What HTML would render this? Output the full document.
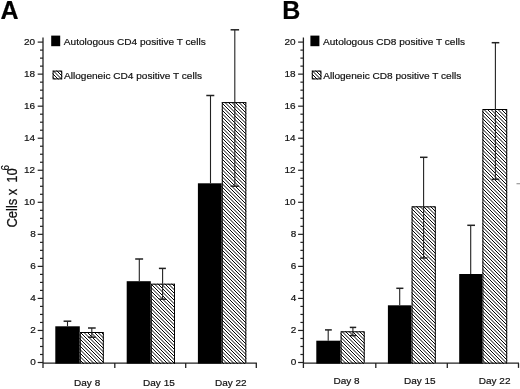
<!DOCTYPE html>
<html><head><meta charset="utf-8"><style>
html,body{margin:0;padding:0;background:#fff;}
svg{display:block;filter:blur(0.3px);}
text{font-family:"Liberation Sans", sans-serif;fill:#111;stroke:#111;stroke-width:0.2px;}
.ax{stroke:#222;stroke-width:1.3;}
.tk{stroke:#222;stroke-width:1.2;}
.eb{stroke:#222;stroke-width:1.1;}
.ec{stroke:#222;stroke-width:1.5;}
.tl{font-size:10px;}
.lg{font-size:10px;}
.xl{font-size:10px;}
.pl{font-size:25px;font-weight:bold;fill:#000;}
.yl{font-size:13px;}
</style></head><body>
<svg width="520" height="389" viewBox="0 0 520 389">
<defs>
<pattern id="hp" patternUnits="userSpaceOnUse" x="0" y="0" width="7" height="7">
<rect width="7" height="7" fill="#fff"/>
<path d="M-8,-1 L1,8 M-4.5,-1 L4.5,8 M-1,-1 L8,8 M2.5,-1 L11.5,8 M6,-1 L15,8" stroke="#000" stroke-width="0.990"/>
</pattern>
</defs>
<rect width="520" height="389" fill="#fff"/>
<line x1="43.0" y1="37.5" x2="43.0" y2="367.9" class="ax"/>
<line x1="43.0" y1="363.1" x2="256.9" y2="363.1" class="ax"/>
<line x1="114.8" y1="363.1" x2="114.8" y2="367.9" class="ax"/>
<line x1="185.7" y1="363.1" x2="185.7" y2="367.9" class="ax"/>
<line x1="256.3" y1="363.1" x2="256.3" y2="367.9" class="ax"/>
<line x1="37.7" y1="362.50" x2="43.0" y2="362.50" class="tk"/>
<text transform="translate(35.90,365.40) scale(1.0,0.97)" text-anchor="end" class="tl">0</text>
<line x1="40.0" y1="354.49" x2="43.0" y2="354.49" class="tk"/>
<line x1="40.0" y1="346.48" x2="43.0" y2="346.48" class="tk"/>
<line x1="40.0" y1="338.47" x2="43.0" y2="338.47" class="tk"/>
<line x1="37.7" y1="330.46" x2="43.0" y2="330.46" class="tk"/>
<text transform="translate(35.90,333.36) scale(1.0,0.97)" text-anchor="end" class="tl">2</text>
<line x1="40.0" y1="322.45" x2="43.0" y2="322.45" class="tk"/>
<line x1="40.0" y1="314.44" x2="43.0" y2="314.44" class="tk"/>
<line x1="40.0" y1="306.43" x2="43.0" y2="306.43" class="tk"/>
<line x1="37.7" y1="298.42" x2="43.0" y2="298.42" class="tk"/>
<text transform="translate(35.90,301.32) scale(1.0,0.97)" text-anchor="end" class="tl">4</text>
<line x1="40.0" y1="290.41" x2="43.0" y2="290.41" class="tk"/>
<line x1="40.0" y1="282.40" x2="43.0" y2="282.40" class="tk"/>
<line x1="40.0" y1="274.39" x2="43.0" y2="274.39" class="tk"/>
<line x1="37.7" y1="266.38" x2="43.0" y2="266.38" class="tk"/>
<text transform="translate(35.90,269.28) scale(1.0,0.97)" text-anchor="end" class="tl">6</text>
<line x1="40.0" y1="258.37" x2="43.0" y2="258.37" class="tk"/>
<line x1="40.0" y1="250.36" x2="43.0" y2="250.36" class="tk"/>
<line x1="40.0" y1="242.35" x2="43.0" y2="242.35" class="tk"/>
<line x1="37.7" y1="234.34" x2="43.0" y2="234.34" class="tk"/>
<text transform="translate(35.90,237.24) scale(1.0,0.97)" text-anchor="end" class="tl">8</text>
<line x1="40.0" y1="226.33" x2="43.0" y2="226.33" class="tk"/>
<line x1="40.0" y1="218.32" x2="43.0" y2="218.32" class="tk"/>
<line x1="40.0" y1="210.31" x2="43.0" y2="210.31" class="tk"/>
<line x1="37.7" y1="202.30" x2="43.0" y2="202.30" class="tk"/>
<text transform="translate(35.10,205.20) scale(1.0,0.97)" text-anchor="end" class="tl">10</text>
<line x1="40.0" y1="194.29" x2="43.0" y2="194.29" class="tk"/>
<line x1="40.0" y1="186.28" x2="43.0" y2="186.28" class="tk"/>
<line x1="40.0" y1="178.27" x2="43.0" y2="178.27" class="tk"/>
<line x1="37.7" y1="170.26" x2="43.0" y2="170.26" class="tk"/>
<text transform="translate(35.10,173.16) scale(1.0,0.97)" text-anchor="end" class="tl">12</text>
<line x1="40.0" y1="162.25" x2="43.0" y2="162.25" class="tk"/>
<line x1="40.0" y1="154.24" x2="43.0" y2="154.24" class="tk"/>
<line x1="40.0" y1="146.23" x2="43.0" y2="146.23" class="tk"/>
<line x1="37.7" y1="138.22" x2="43.0" y2="138.22" class="tk"/>
<text transform="translate(35.10,141.12) scale(1.0,0.97)" text-anchor="end" class="tl">14</text>
<line x1="40.0" y1="130.21" x2="43.0" y2="130.21" class="tk"/>
<line x1="40.0" y1="122.20" x2="43.0" y2="122.20" class="tk"/>
<line x1="40.0" y1="114.19" x2="43.0" y2="114.19" class="tk"/>
<line x1="37.7" y1="106.18" x2="43.0" y2="106.18" class="tk"/>
<text transform="translate(35.10,109.08) scale(1.0,0.97)" text-anchor="end" class="tl">16</text>
<line x1="40.0" y1="98.17" x2="43.0" y2="98.17" class="tk"/>
<line x1="40.0" y1="90.16" x2="43.0" y2="90.16" class="tk"/>
<line x1="40.0" y1="82.15" x2="43.0" y2="82.15" class="tk"/>
<line x1="37.7" y1="74.14" x2="43.0" y2="74.14" class="tk"/>
<text transform="translate(35.10,77.04) scale(1.0,0.97)" text-anchor="end" class="tl">18</text>
<line x1="40.0" y1="66.13" x2="43.0" y2="66.13" class="tk"/>
<line x1="40.0" y1="58.12" x2="43.0" y2="58.12" class="tk"/>
<line x1="40.0" y1="50.11" x2="43.0" y2="50.11" class="tk"/>
<line x1="37.7" y1="42.10" x2="43.0" y2="42.10" class="tk"/>
<text transform="translate(35.10,45.00) scale(1.0,0.97)" text-anchor="end" class="tl">20</text>
<rect x="55.3" y="326.3" width="24.5" height="37.30000000000001" fill="#000"/>
<rect x="79.8" y="332.0" width="24.0" height="31.600000000000023" fill="url(#hp)"/><rect x="80.3" y="332.5" width="23.0" height="30.600000000000023" fill="none" stroke="#000" stroke-width="1"/>
<rect x="126.7" y="281.2" width="24.10000000000001" height="82.40000000000003" fill="#000"/>
<rect x="150.8" y="283.7" width="24.19999999999999" height="79.90000000000003" fill="url(#hp)"/><rect x="151.3" y="284.2" width="23.19999999999999" height="78.90000000000003" fill="none" stroke="#000" stroke-width="1"/>
<rect x="197.9" y="183.3" width="23.900000000000006" height="180.3" fill="#000"/>
<rect x="221.8" y="102.1" width="24.5" height="261.5" fill="url(#hp)"/><rect x="222.3" y="102.6" width="23.5" height="260.5" fill="none" stroke="#000" stroke-width="1"/>
<line x1="67.5" y1="321.2" x2="67.5" y2="326.3" class="eb"/>
<line x1="63.6" y1="321.2" x2="71.3" y2="321.2" class="ec"/>
<line x1="91.8" y1="328.0" x2="91.8" y2="332.0" class="eb"/>
<line x1="88.0" y1="328.0" x2="95.7" y2="328.0" class="ec"/>
<line x1="91.8" y1="332.0" x2="91.8" y2="337.2" class="eb"/>
<line x1="88.0" y1="337.2" x2="95.7" y2="337.2" class="ec"/>
<line x1="139.3" y1="259.0" x2="139.3" y2="281.2" class="eb"/>
<line x1="135.2" y1="259.0" x2="143.1" y2="259.0" class="ec"/>
<line x1="162.6" y1="268.4" x2="162.6" y2="283.7" class="eb"/>
<line x1="158.9" y1="268.4" x2="165.9" y2="268.4" class="ec"/>
<line x1="162.6" y1="283.7" x2="162.6" y2="299.2" class="eb"/>
<line x1="158.9" y1="299.2" x2="165.9" y2="299.2" class="ec"/>
<line x1="210.5" y1="95.5" x2="210.5" y2="183.3" class="eb"/>
<line x1="206.3" y1="95.5" x2="214.3" y2="95.5" class="ec"/>
<line x1="234.8" y1="29.8" x2="234.8" y2="102.1" class="eb"/>
<line x1="230.6" y1="29.8" x2="239.1" y2="29.8" class="ec"/>
<line x1="234.8" y1="102.1" x2="234.8" y2="186.2" class="eb"/>
<line x1="230.6" y1="186.2" x2="239.1" y2="186.2" class="ec"/>
<line x1="303.4" y1="37.5" x2="303.4" y2="367.9" class="ax"/>
<line x1="303.4" y1="363.1" x2="519" y2="363.1" class="ax"/>
<line x1="375.8" y1="363.1" x2="375.8" y2="367.9" class="ax"/>
<line x1="447.3" y1="363.1" x2="447.3" y2="367.9" class="ax"/>
<line x1="518.5" y1="363.1" x2="518.5" y2="367.9" class="ax"/>
<line x1="298.09999999999997" y1="362.50" x2="303.4" y2="362.50" class="tk"/>
<text transform="translate(296.30,365.40) scale(1.0,0.97)" text-anchor="end" class="tl">0</text>
<line x1="300.4" y1="354.49" x2="303.4" y2="354.49" class="tk"/>
<line x1="300.4" y1="346.48" x2="303.4" y2="346.48" class="tk"/>
<line x1="300.4" y1="338.47" x2="303.4" y2="338.47" class="tk"/>
<line x1="298.09999999999997" y1="330.46" x2="303.4" y2="330.46" class="tk"/>
<text transform="translate(296.30,333.36) scale(1.0,0.97)" text-anchor="end" class="tl">2</text>
<line x1="300.4" y1="322.45" x2="303.4" y2="322.45" class="tk"/>
<line x1="300.4" y1="314.44" x2="303.4" y2="314.44" class="tk"/>
<line x1="300.4" y1="306.43" x2="303.4" y2="306.43" class="tk"/>
<line x1="298.09999999999997" y1="298.42" x2="303.4" y2="298.42" class="tk"/>
<text transform="translate(296.30,301.32) scale(1.0,0.97)" text-anchor="end" class="tl">4</text>
<line x1="300.4" y1="290.41" x2="303.4" y2="290.41" class="tk"/>
<line x1="300.4" y1="282.40" x2="303.4" y2="282.40" class="tk"/>
<line x1="300.4" y1="274.39" x2="303.4" y2="274.39" class="tk"/>
<line x1="298.09999999999997" y1="266.38" x2="303.4" y2="266.38" class="tk"/>
<text transform="translate(296.30,269.28) scale(1.0,0.97)" text-anchor="end" class="tl">6</text>
<line x1="300.4" y1="258.37" x2="303.4" y2="258.37" class="tk"/>
<line x1="300.4" y1="250.36" x2="303.4" y2="250.36" class="tk"/>
<line x1="300.4" y1="242.35" x2="303.4" y2="242.35" class="tk"/>
<line x1="298.09999999999997" y1="234.34" x2="303.4" y2="234.34" class="tk"/>
<text transform="translate(296.30,237.24) scale(1.0,0.97)" text-anchor="end" class="tl">8</text>
<line x1="300.4" y1="226.33" x2="303.4" y2="226.33" class="tk"/>
<line x1="300.4" y1="218.32" x2="303.4" y2="218.32" class="tk"/>
<line x1="300.4" y1="210.31" x2="303.4" y2="210.31" class="tk"/>
<line x1="298.09999999999997" y1="202.30" x2="303.4" y2="202.30" class="tk"/>
<text transform="translate(295.50,205.20) scale(1.0,0.97)" text-anchor="end" class="tl">10</text>
<line x1="300.4" y1="194.29" x2="303.4" y2="194.29" class="tk"/>
<line x1="300.4" y1="186.28" x2="303.4" y2="186.28" class="tk"/>
<line x1="300.4" y1="178.27" x2="303.4" y2="178.27" class="tk"/>
<line x1="298.09999999999997" y1="170.26" x2="303.4" y2="170.26" class="tk"/>
<text transform="translate(295.50,173.16) scale(1.0,0.97)" text-anchor="end" class="tl">12</text>
<line x1="300.4" y1="162.25" x2="303.4" y2="162.25" class="tk"/>
<line x1="300.4" y1="154.24" x2="303.4" y2="154.24" class="tk"/>
<line x1="300.4" y1="146.23" x2="303.4" y2="146.23" class="tk"/>
<line x1="298.09999999999997" y1="138.22" x2="303.4" y2="138.22" class="tk"/>
<text transform="translate(295.50,141.12) scale(1.0,0.97)" text-anchor="end" class="tl">14</text>
<line x1="300.4" y1="130.21" x2="303.4" y2="130.21" class="tk"/>
<line x1="300.4" y1="122.20" x2="303.4" y2="122.20" class="tk"/>
<line x1="300.4" y1="114.19" x2="303.4" y2="114.19" class="tk"/>
<line x1="298.09999999999997" y1="106.18" x2="303.4" y2="106.18" class="tk"/>
<text transform="translate(295.50,109.08) scale(1.0,0.97)" text-anchor="end" class="tl">16</text>
<line x1="300.4" y1="98.17" x2="303.4" y2="98.17" class="tk"/>
<line x1="300.4" y1="90.16" x2="303.4" y2="90.16" class="tk"/>
<line x1="300.4" y1="82.15" x2="303.4" y2="82.15" class="tk"/>
<line x1="298.09999999999997" y1="74.14" x2="303.4" y2="74.14" class="tk"/>
<text transform="translate(295.50,77.04) scale(1.0,0.97)" text-anchor="end" class="tl">18</text>
<line x1="300.4" y1="66.13" x2="303.4" y2="66.13" class="tk"/>
<line x1="300.4" y1="58.12" x2="303.4" y2="58.12" class="tk"/>
<line x1="300.4" y1="50.11" x2="303.4" y2="50.11" class="tk"/>
<line x1="298.09999999999997" y1="42.10" x2="303.4" y2="42.10" class="tk"/>
<text transform="translate(295.50,45.00) scale(1.0,0.97)" text-anchor="end" class="tl">20</text>
<rect x="316.3" y="340.7" width="24.30000000000001" height="22.900000000000034" fill="#000"/>
<rect x="340.6" y="331.3" width="24.099999999999966" height="32.30000000000001" fill="url(#hp)"/><rect x="341.1" y="331.8" width="23.099999999999966" height="31.30000000000001" fill="none" stroke="#000" stroke-width="1"/>
<rect x="387.9" y="305.3" width="23.700000000000045" height="58.30000000000001" fill="#000"/>
<rect x="411.6" y="206.3" width="24.19999999999999" height="157.3" fill="url(#hp)"/><rect x="412.1" y="206.8" width="23.19999999999999" height="156.3" fill="none" stroke="#000" stroke-width="1"/>
<rect x="459.2" y="274.0" width="23.19999999999999" height="89.60000000000002" fill="#000"/>
<rect x="482.4" y="109.0" width="24.80000000000001" height="254.60000000000002" fill="url(#hp)"/><rect x="482.9" y="109.5" width="23.80000000000001" height="253.60000000000002" fill="none" stroke="#000" stroke-width="1"/>
<line x1="328.2" y1="329.9" x2="328.2" y2="340.7" class="eb"/>
<line x1="325.0" y1="329.9" x2="331.8" y2="329.9" class="ec"/>
<line x1="352.9" y1="327.4" x2="352.9" y2="331.3" class="eb"/>
<line x1="349.8" y1="327.4" x2="356.2" y2="327.4" class="ec"/>
<line x1="352.9" y1="331.3" x2="352.9" y2="335.6" class="eb"/>
<line x1="349.8" y1="335.6" x2="356.2" y2="335.6" class="ec"/>
<line x1="399.7" y1="288.3" x2="399.7" y2="305.3" class="eb"/>
<line x1="396.3" y1="288.3" x2="403.4" y2="288.3" class="ec"/>
<line x1="423.6" y1="157.3" x2="423.6" y2="206.3" class="eb"/>
<line x1="420.0" y1="157.3" x2="427.5" y2="157.3" class="ec"/>
<line x1="423.6" y1="206.3" x2="423.6" y2="258.0" class="eb"/>
<line x1="420.0" y1="258.0" x2="427.5" y2="258.0" class="ec"/>
<line x1="470.7" y1="225.3" x2="470.7" y2="274.0" class="eb"/>
<line x1="467.3" y1="225.3" x2="475.0" y2="225.3" class="ec"/>
<line x1="495.4" y1="42.7" x2="495.4" y2="109.0" class="eb"/>
<line x1="491.7" y1="42.7" x2="499.3" y2="42.7" class="ec"/>
<line x1="495.4" y1="109.0" x2="495.4" y2="179.3" class="eb"/>
<line x1="491.7" y1="179.3" x2="499.3" y2="179.3" class="ec"/>
<rect x="51.2" y="35.6" width="9" height="10.6" fill="#000"/>
<text transform="translate(63.800000000000004,44.9) scale(1.01,0.87)" class="lg">Autologous CD4 positive T cells</text>
<rect x="52.6" y="70.6" width="9.6" height="8.8" fill="url(#hp)"/>
<rect x="53.1" y="71.1" width="8.6" height="7.8" fill="none" stroke="#000" stroke-width="1"/>
<text transform="translate(64.0,78.6) scale(1.01,0.87)" class="lg">Allogeneic CD4 positive T cells</text>
<rect x="310.4" y="35.6" width="9" height="10.6" fill="#000"/>
<text transform="translate(323.0,44.9) scale(1.01,0.87)" class="lg">Autologous CD8 positive T cells</text>
<rect x="311.79999999999995" y="70.6" width="9.6" height="8.8" fill="url(#hp)"/>
<rect x="312.29999999999995" y="71.1" width="8.6" height="7.8" fill="none" stroke="#000" stroke-width="1"/>
<text transform="translate(323.2,78.6) scale(1.01,0.87)" class="lg">Allogeneic CD8 positive T cells</text>
<text transform="translate(74.1,385.5) scale(1.0,0.97)" class="xl">Day 8</text>
<text transform="translate(143.1,385.5) scale(1.0,0.97)" class="xl">Day 15</text>
<text transform="translate(215.0,385.5) scale(1.0,0.97)" class="xl">Day 22</text>
<text transform="translate(333.5,383.7) scale(1.0,0.97)" class="xl">Day 8</text>
<text transform="translate(404.0,383.7) scale(1.0,0.97)" class="xl">Day 15</text>
<text transform="translate(478.8,383.7) scale(1.0,0.97)" class="xl">Day 22</text>
<line x1="516.5" y1="183.7" x2="520" y2="183.7" stroke="#999" stroke-width="1.2"/>
<text x="0.5" y="19.2" class="pl">A</text>
<text x="282.3" y="19.2" class="pl">B</text>
<text transform="translate(17.2,227.6) rotate(-90) scale(1,1.08)" class="yl">Cells x <tspan dx="2.2">10</tspan><tspan dy="-7.9" dx="-2.2" font-size="10">6</tspan></text>
</svg>
</body></html>
